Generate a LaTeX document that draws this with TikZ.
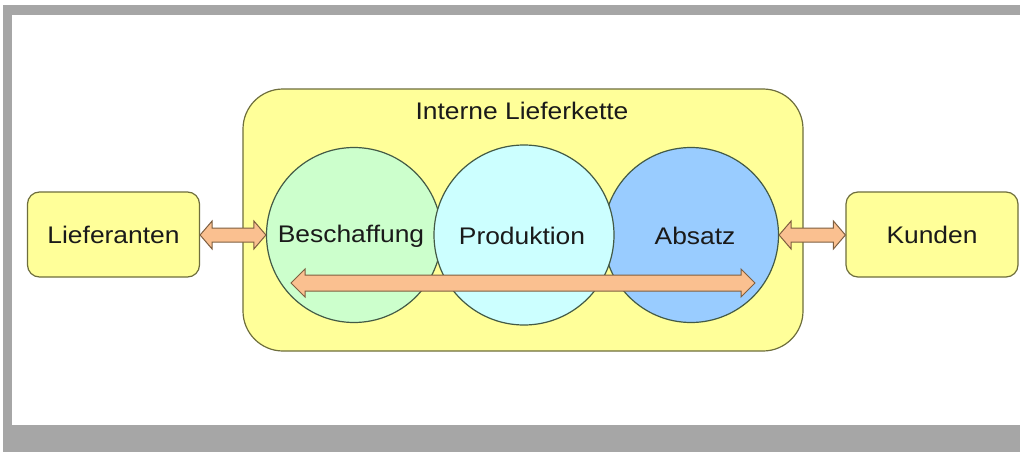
\documentclass[tikz,border=0pt]{standalone}
\usepackage{fontspec}
\setmainfont[FakeStretch=1.1]{Liberation Sans}
\usetikzlibrary{calc}
\definecolor{frameg}{HTML}{A6A6A6}
\definecolor{boxyellow}{HTML}{FFFF99}
\definecolor{boxline}{HTML}{6E6E3C}
\definecolor{cgreen}{HTML}{CCFFCC}
\definecolor{ccyan}{HTML}{CCFFFF}
\definecolor{cblue}{HTML}{99CCFF}
\definecolor{cline}{HTML}{435A45}
\definecolor{arrfill}{HTML}{FAC090}
\definecolor{arrline}{HTML}{7F5F40}
\definecolor{txt}{HTML}{1A1A1A}
\tikzset{
  ybox/.style={draw=boxline, fill=boxyellow, line width=1.2pt, rounded corners=12pt,
    minimum width=172pt, minimum height=85pt, inner sep=0pt, text=txt},
  bigbox/.style={draw=boxline, fill=boxyellow, line width=1.2pt, rounded corners=40pt,
    minimum width=560pt, minimum height=262pt, inner sep=0pt},
  ring/.style={circle, draw=cline, line width=1.2pt, minimum size=175pt, inner sep=0pt, text=txt},
  blockarrow/.style={draw=arrline, fill=arrfill, line width=1pt, line join=miter},
  lbl/.style={text=txt, inner sep=0pt}
}
\begin{document}
\begin{tikzpicture}[x=1pt,y=-1pt,font=\fontsize{24}{28}\selectfont]
\useasboundingbox (0,0) rectangle (1020,452);
\fill[white] (0,0) rectangle (1020,452);
% frame
\fill[frameg] (3,5) rectangle (1020,15);
\fill[frameg] (3,5) rectangle (12,452);
\fill[frameg] (3,425) rectangle (1020,452);
% outer box
\node[bigbox] (intern) at (523,220) {};
\node[lbl] (title) at (522,111) {Interne Lieferkette};
% side boxes
\node[ybox] (lief) at (113.5,234.5) {Lieferanten};
\node[ybox] (kund) at (932,234.5) {Kunden};
% circles
\node[ring, fill=cgreen] (besch) at (354,235) {};
\node[ring, fill=cblue] (abs) at (691,235) {};
\node[ring, fill=ccyan, minimum size=180pt] (prod) at (524,235) {};
\node[lbl] (tbesch) at (351,236) {Beschaffung};
\node[lbl] (tprod) at (522,236) {Produktion};
\node[lbl] (tabs) at (695,236) {Absatz};
% arrows
\coordinate (la) at (291,283);
\coordinate (lb) at (755,283);
\path[blockarrow] let \p1=(lief.east), \p2=(besch.west) in
  (\x1,\y2) -- (\x1+12pt,\y2+14pt) -- (\x1+12pt,\y2+7pt) -- (\x2-12pt,\y2+7pt)
  -- (\x2-12pt,\y2+14pt) -- (\x2,\y2) -- (\x2-12pt,\y2-14pt) -- (\x2-12pt,\y2-7pt)
  -- (\x1+12pt,\y2-7pt) -- (\x1+12pt,\y2-14pt) -- cycle;
\path[blockarrow] let \p1=(abs.east), \p2=(kund.west) in
  (\x1,\y1) -- (\x1+12pt,\y1+14pt) -- (\x1+12pt,\y1+7pt) -- (\x2-12pt,\y1+7pt)
  -- (\x2-12pt,\y1+14pt) -- (\x2,\y1) -- (\x2-12pt,\y1-14pt) -- (\x2-12pt,\y1-7pt)
  -- (\x1+12pt,\y1-7pt) -- (\x1+12pt,\y1-14pt) -- cycle;
\path[blockarrow] let \p1=(la), \p2=(lb) in
  (\x1,\y1) -- (\x1+14pt,\y1+14pt) -- (\x1+14pt,\y1+8pt) -- (\x2-14pt,\y1+8pt)
  -- (\x2-14pt,\y1+14pt) -- (\x2,\y1) -- (\x2-14pt,\y1-14pt) -- (\x2-14pt,\y1-8pt)
  -- (\x1+14pt,\y1-8pt) -- (\x1+14pt,\y1-14pt) -- cycle;
\end{tikzpicture}
\end{document}
